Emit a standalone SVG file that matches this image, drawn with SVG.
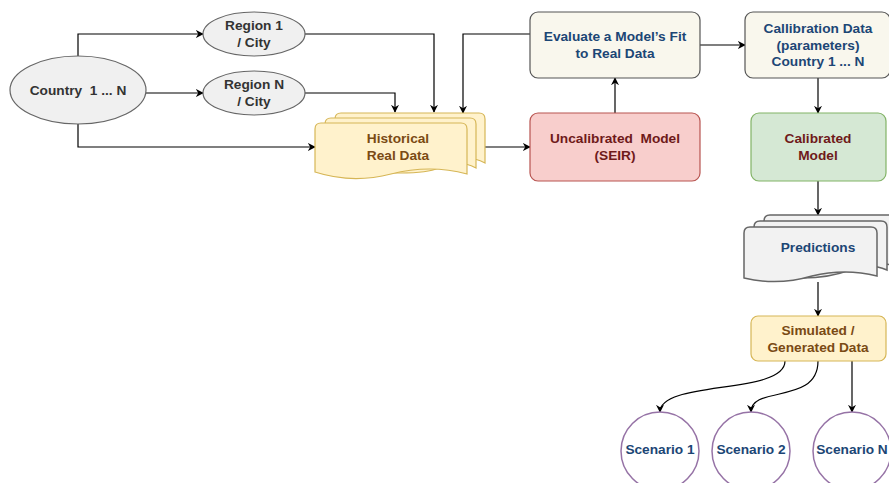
<svg xmlns="http://www.w3.org/2000/svg" width="889" height="483" viewBox="0 0 889 483">
<defs>
<marker id="ah" viewBox="0 0 10 10" refX="9" refY="5" markerWidth="8" markerHeight="8" markerUnits="userSpaceOnUse" orient="auto">
<path d="M0,0 L10,5 L0,10 L3,5 Z" fill="#000"/>
</marker>
<style>
text{font-family:"Liberation Sans",Arial,sans-serif;font-weight:bold;font-size:13.7px;text-anchor:middle;white-space:pre}
.gray{fill:#f0f0f0;stroke:#666;stroke-width:1.2}
.beige{fill:#f9f7ed;stroke:#555;stroke-width:1.2}
.pink{fill:#f8cecc;stroke:#b85450;stroke-width:1.2}
.green{fill:#d5e8d4;stroke:#82b366;stroke-width:1.2}
.yellow{fill:#fff2cc;stroke:#d6b656;stroke-width:1.2}
.doc{fill:#f2f2f2;stroke:#666;stroke-width:1.5}
.scen{fill:#fff;stroke:#9673a6;stroke-width:1.5}
.tg{fill:#333}
.tb{fill:#1c4675}
.tr{fill:#6f1a1a}
.tbr{fill:#7a4a14}
.c{fill:none;stroke:#000;stroke-width:1.2;marker-end:url(#ah)}
</style>
</defs>
<rect width="889" height="483" fill="#fff"/>
<g id="connectors">
<path class="c" d="M78,57 V34 H203"/>
<path class="c" d="M146,93 H203"/>
<path class="c" d="M78,124 V147 H315"/>
<path class="c" d="M305,34 H434 V112"/>
<path class="c" d="M305,93 H395 V112"/>
<path class="c" d="M530,34 H463 V113"/>
<path class="c" d="M485,147 H530"/>
<path class="c" d="M615,113 V78"/>
<path class="c" d="M700,45 H745"/>
<path class="c" d="M818,78 V113"/>
<path class="c" d="M818,181 V215"/>
<path class="c" d="M818,282 V316"/>
<path class="c" d="M785,361 C785,395 660,380 660,412"/>
<path class="c" d="M818,361 C818,405 751,385 751,412"/>
<path class="c" d="M852,361 V412"/>
</g>
<g id="country">
<ellipse class="gray" cx="78" cy="90" rx="68" ry="34"/>
<text class="tg" x="78" y="95" xml:space="preserve">Country  1 ... N</text>
</g>
<g id="region1">
<ellipse class="gray" cx="254" cy="34" rx="51" ry="22"/>
<text class="tg" x="254" y="30">Region 1</text>
<text class="tg" x="254" y="47">/ City</text>
</g>
<g id="regionN">
<ellipse class="gray" cx="254" cy="93" rx="51" ry="22"/>
<text class="tg" x="254" y="89">Region N</text>
<text class="tg" x="254" y="106">/ City</text>
</g>
<g id="historical">
<path class="yellow" stroke-width="1.5" d="M335,119 Q335,113 341,113 L479,113 Q485,113 485,119 L485,163 Q466,153 447,163 Q428,173 335,163 Z"/>
<path class="yellow" stroke-width="1.5" d="M325,124 Q325,118 331,118 L470,118 Q476,118 476,124 L476,168 Q457,158 438,168 Q419,178 325,168 Z"/>
<path class="yellow" stroke-width="1.5" d="M315,129 Q315,123 321,123 L461,123 Q467,123 467,129 L467,174 Q430,164 391,174 Q352,184 315,172 Z"/>
<text class="tbr" x="398" y="143">Historical</text>
<text class="tbr" x="398" y="160">Real Data</text>
</g>
<g id="evaluate">
<rect class="beige" x="530" y="12" width="170" height="66" rx="8"/>
<text class="tb" x="615" y="41">Evaluate a Model’s Fit</text>
<text class="tb" x="615" y="58">to Real Data</text>
</g>
<g id="uncalibrated">
<rect class="pink" x="530" y="113" width="170" height="68" rx="8"/>
<text class="tr" x="615" y="143" xml:space="preserve">Uncalibrated  Model</text>
<text class="tr" x="615" y="160">(SEIR)</text>
</g>
<g id="calibration">
<rect class="beige" x="745" y="12" width="145" height="66" rx="8"/>
<text class="tb" x="818" y="33">Callibration Data</text>
<text class="tb" x="818" y="50">(parameters)</text>
<text class="tb" x="818" y="66">Country 1 ... N</text>
</g>
<g id="calibrated">
<rect class="green" x="751" y="113" width="135" height="68" rx="8"/>
<text class="tr" x="818" y="143">Calibrated</text>
<text class="tr" x="818" y="160">Model</text>
</g>
<g id="predictions">
<path class="doc" d="M764,221 Q764,215 770,215 L891,215 L891,265 Q880,262 870,266 Q820,278 764,266 Z"/>
<path class="doc" d="M754,227 Q754,221 760,221 L881,221 Q887,221 887,227 L887,270 Q868,262 850,270 Q810,285 754,272 Z"/>
<path class="doc" d="M744,233 Q744,227 750,227 L871,227 Q877,227 877,233 L877,276 Q845,268 812,276 Q778,286 744,278 Z"/>
<text class="tb" x="818" y="252">Predictions</text>
</g>
<g id="simulated">
<rect class="yellow" x="751" y="316" width="135" height="45" rx="7"/>
<text class="tbr" x="818" y="335">Simulated /</text>
<text class="tbr" x="818" y="352">Generated Data</text>
</g>
<g id="scenario1">
<circle class="scen" cx="660" cy="451" r="39"/>
<text class="tb" x="660" y="454">Scenario 1</text>
</g>
<g id="scenario2">
<circle class="scen" cx="751" cy="451" r="39"/>
<text class="tb" x="751" y="454">Scenario 2</text>
</g>
<g id="scenarioN">
<circle class="scen" cx="852" cy="451" r="39"/>
<text class="tb" x="852" y="454">Scenario N</text>
</g>
</svg>
